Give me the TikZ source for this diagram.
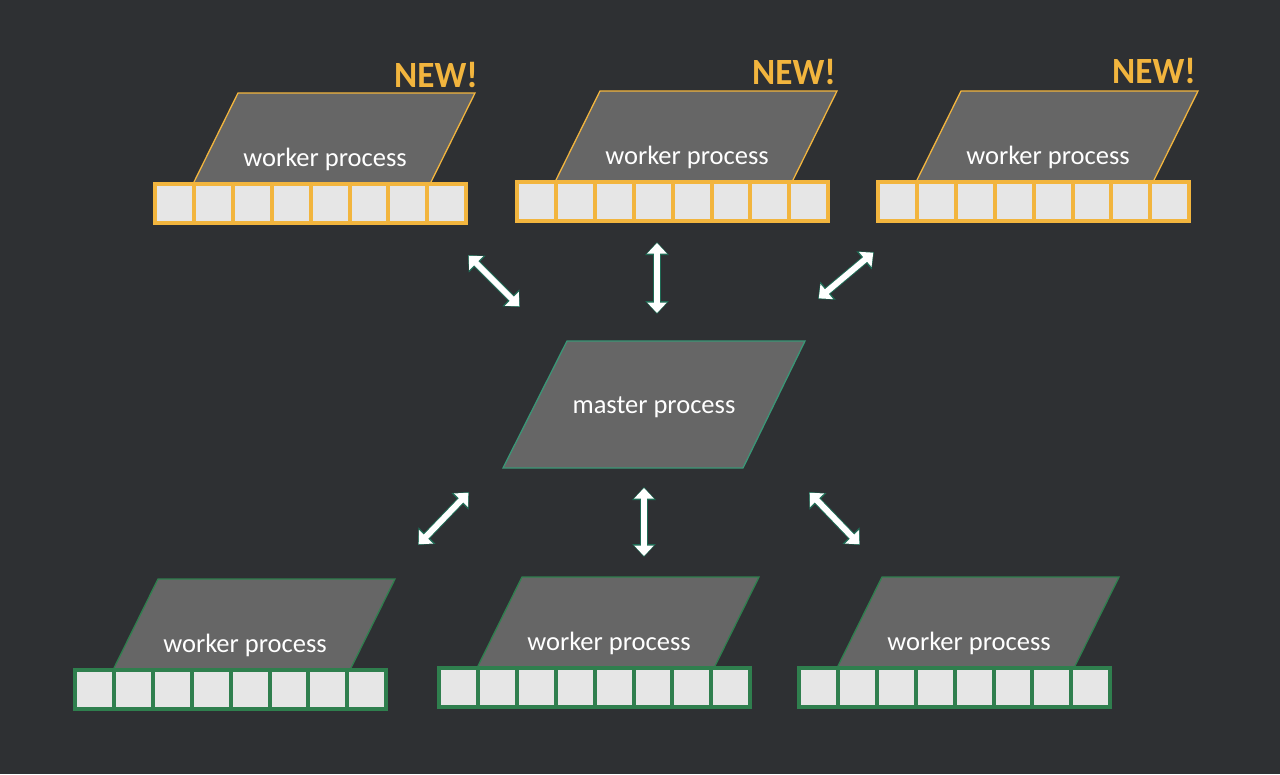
\documentclass[tikz,border=0pt]{standalone}
\usepackage{fontspec}
\setmainfont{Carlito}
\usetikzlibrary{arrows.meta}
\definecolor{bg}{HTML}{2E3033}
\definecolor{pgray}{HTML}{666666}
\definecolor{yel}{HTML}{F2B53E}
\definecolor{grn}{HTML}{2F7F4E}
\definecolor{teal}{HTML}{3A9676}
\definecolor{cell}{HTML}{E6E6E6}
\definecolor{arrout}{HTML}{1F6B55}
\tikzset{
  para/.style={fill=pgray, draw=#1, line width=1.3pt, line join=miter},
  barframe/.style={fill=#1, draw=none},
  cellbox/.style={fill=cell, draw=none},
  lbl/.style={text=white, font=\fontsize{26.5}{30}\selectfont, inner sep=0pt},
  newlbl/.style={text=yel, font=\bfseries\fontsize{37}{40}\selectfont, inner sep=0pt, xscale=0.95},
  arrbg/.style={draw=arrout, line width=8pt, {Triangle[length=13pt,width=23pt]}-{Triangle[length=13pt,width=23pt]}},
  arrfg/.style={draw=white, line width=6pt, {Triangle[length=10.5pt,width=19pt]}-{Triangle[length=10.5pt,width=19pt]}, shorten <=1pt, shorten >=1pt},
}
% #1 name, #2 x, #3 y (bar top-left), #4 colour
\newcommand\workerproc[4]{%
  \draw[para=#4] ({#2+85},{#3-89}) -- ({#2+322},{#3-89}) -- ({#2+277},{#3+2}) -- ({#2+40},{#3+2}) -- cycle;
  \fill[barframe=#4] (#2,#3) rectangle ({#2+315},{#3+43});
  \foreach \i in {0,...,7}{
    \fill[cellbox] ({#2+4+\i*38.9},{#3+4}) rectangle ({#2+4+\i*38.9+34.9},{#3+39});
  }
  \node[lbl] (#1) at ({#2+172},{#3-23}) {worker process};
}
\begin{document}
\begin{tikzpicture}[x=1pt,y=-1pt]
\fill[bg] (0,0) rectangle (1280,774);
\useasboundingbox (0,0) rectangle (1280,774);

% top workers
\workerproc{wTL}{153}{182}{yel}
\workerproc{wTM}{515}{180}{yel}
\workerproc{wTR}{876}{180}{yel}
\node[newlbl, anchor=east] (nTL) at (478,75) {NEW!};
\node[newlbl, anchor=east] (nTM) at (836,72) {NEW!};
\node[newlbl, anchor=east] (nTR) at (1196,71) {NEW!};

% master
\draw[para=teal] (567,341) -- (805,341) -- (743,468) -- (503,468) -- cycle;
\node[lbl] (master) at (654,407) {master process};

% bottom workers
\workerproc{wBL}{73}{668}{grn}
\workerproc{wBM}{437}{666}{grn}
\workerproc{wBR}{797}{666}{grn}

% arrow end points
\coordinate (aTLa) at (468,255); \coordinate (aTLb) at (520,307);
\coordinate (aTMa) at (657,242); \coordinate (aTMb) at (657,314);
\coordinate (aTRa) at (874,252); \coordinate (aTRb) at (818,299);
\coordinate (aBLa) at (469,492); \coordinate (aBLb) at (418,545);
\coordinate (aBMa) at (644,487); \coordinate (aBMb) at (644,557);
\coordinate (aBRa) at (809,492); \coordinate (aBRb) at (860,545);

\foreach \a in {TL,TM,TR,BL,BM,BR}{
  \draw[arrbg] (a\a a) -- (a\a b);
}
\foreach \a in {TL,TM,TR,BL,BM,BR}{
  \draw[arrfg] (a\a a) -- (a\a b);
}
\end{tikzpicture}
\end{document}
